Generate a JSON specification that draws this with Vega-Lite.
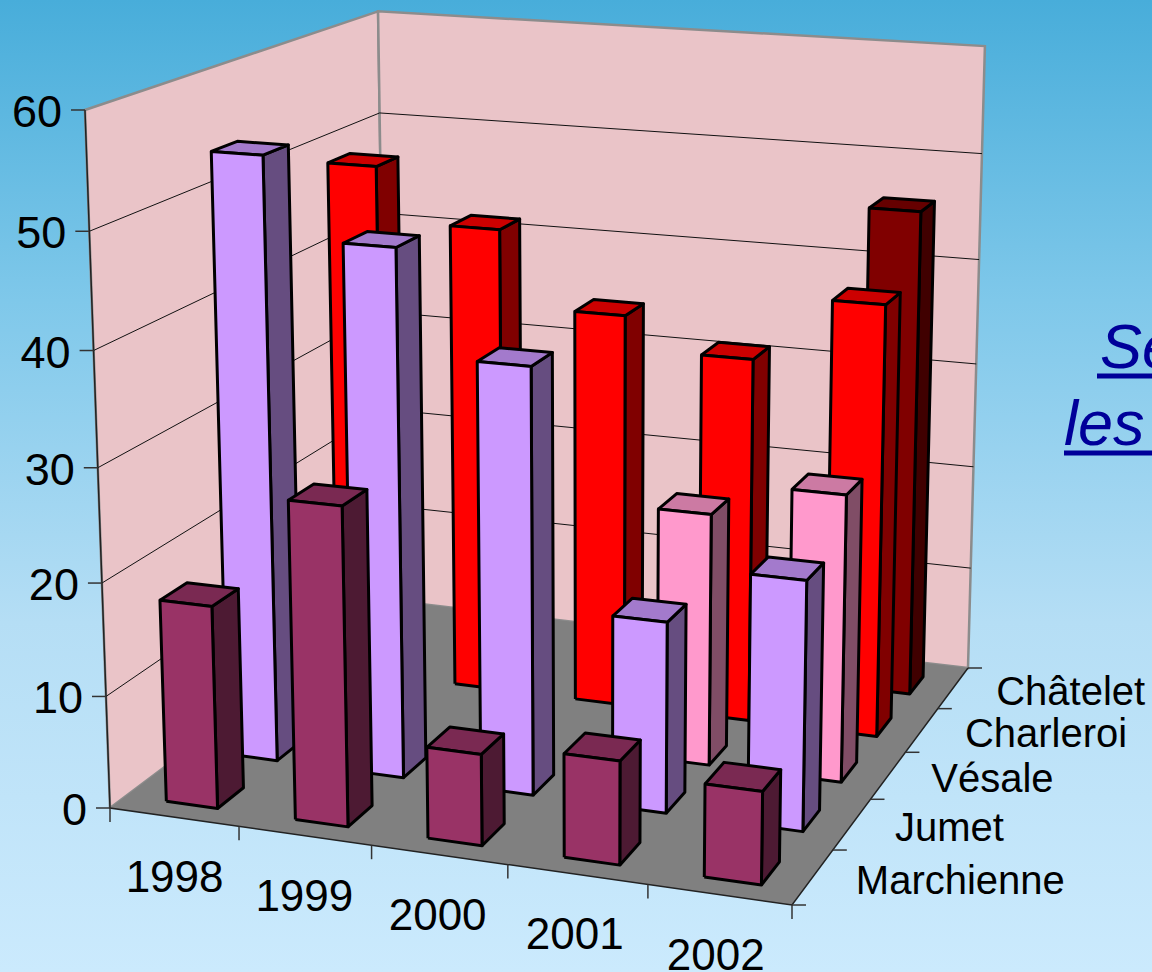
{
"$schema":"https://vega.github.io/schema/vega-lite/v6.json",
"width":1152,"height":972,"padding":0,"autosize":{"type":"none"},
"view":{"stroke":null,"fill":{"gradient":"linear","x1":0,"y1":0,"x2":0,"y2":1,"stops":[{"offset":0,"color":"#48ADDA"},{"offset":0.31,"color":"#7FC8EA"},{"offset":0.64,"color":"#B5DEF5"},{"offset":1,"color":"#CBEAFD"}]}},
"datasets":{
"bars":[
{"year":"2002","site":"Châtelet","value":46},
{"year":"1998","site":"Charleroi","value":49},
{"year":"1999","site":"Charleroi","value":44},
{"year":"2000","site":"Charleroi","value":37},
{"year":"2001","site":"Charleroi","value":34},
{"year":"2002","site":"Charleroi","value":40},
{"year":"2001","site":"Vésale","value":23},
{"year":"2002","site":"Vésale","value":26},
{"year":"1998","site":"Jumet","value":54.25},
{"year":"1999","site":"Jumet","value":47.2},
{"year":"2000","site":"Jumet","value":38},
{"year":"2001","site":"Jumet","value":17},
{"year":"2002","site":"Jumet","value":22},
{"year":"1998","site":"Marchienne","value":18},
{"year":"1999","site":"Marchienne","value":28},
{"year":"2000","site":"Marchienne","value":8},
{"year":"2001","site":"Marchienne","value":9},
{"year":"2002","site":"Marchienne","value":8}
],
"planes":[
{"plane":"left","n":0,"u":0,"v":0,"z":0},{"plane":"left","n":1,"u":0,"v":1,"z":0},{"plane":"left","n":2,"u":0,"v":1,"z":60},{"plane":"left","n":3,"u":0,"v":0,"z":60},{"plane":"left","n":4,"u":0,"v":0,"z":0},
{"plane":"back","n":0,"u":0,"v":1,"z":0},{"plane":"back","n":1,"u":1,"v":1,"z":0},{"plane":"back","n":2,"u":1,"v":1,"z":60},{"plane":"back","n":3,"u":0,"v":1,"z":60},{"plane":"back","n":4,"u":0,"v":1,"z":0}
],
"floor":[
{"plane":"floor","n":0,"u":0,"v":0,"z":0},{"plane":"floor","n":1,"u":1,"v":0,"z":0},{"plane":"floor","n":2,"u":1,"v":1,"z":0},{"plane":"floor","n":3,"u":0,"v":1,"z":0},{"plane":"floor","n":4,"u":0,"v":0,"z":0}
],
"edges":[
{"plane":"e1","n":0,"u":0,"v":0,"z":60},{"plane":"e1","n":1,"u":0,"v":0,"z":0},{"plane":"e1","n":2,"u":1,"v":0,"z":0},{"plane":"e1","n":3,"u":1,"v":1,"z":0}
],
"levels":[{"level":10},{"level":20},{"level":30},{"level":40},{"level":50}],
"ticks":[
{"axis":"value","u":0,"v":0,"z":0},{"axis":"value","u":0,"v":0,"z":10},{"axis":"value","u":0,"v":0,"z":20},{"axis":"value","u":0,"v":0,"z":30},{"axis":"value","u":0,"v":0,"z":40},{"axis":"value","u":0,"v":0,"z":50},{"axis":"value","u":0,"v":0,"z":60},
{"axis":"year","u":0,"v":0,"z":0},{"axis":"year","u":0.2,"v":0,"z":0},{"axis":"year","u":0.4,"v":0,"z":0},{"axis":"year","u":0.6,"v":0,"z":0},{"axis":"year","u":0.8,"v":0,"z":0},{"axis":"year","u":1,"v":0,"z":0},
{"axis":"depth","u":1,"v":0,"z":0},{"axis":"depth","u":1,"v":0.2,"z":0},{"axis":"depth","u":1,"v":0.4,"z":0},{"axis":"depth","u":1,"v":0.6,"z":0},{"axis":"depth","u":1,"v":0.8,"z":0},{"axis":"depth","u":1,"v":1,"z":0}
],
"labels":[
{"axis":"value","label":"0","u":0,"v":0,"z":0},{"axis":"value","label":"10","u":0,"v":0,"z":10},{"axis":"value","label":"20","u":0,"v":0,"z":20},{"axis":"value","label":"30","u":0,"v":0,"z":30},{"axis":"value","label":"40","u":0,"v":0,"z":40},{"axis":"value","label":"50","u":0,"v":0,"z":50},{"axis":"value","label":"60","u":0,"v":0,"z":60},
{"axis":"year","label":"1998","u":0.1,"v":0,"z":0},{"axis":"year","label":"1999","u":0.3,"v":0,"z":0},{"axis":"year","label":"2000","u":0.5,"v":0,"z":0},{"axis":"year","label":"2001","u":0.7,"v":0,"z":0},{"axis":"year","label":"2002","u":0.9,"v":0,"z":0},
{"axis":"depth","label":"Marchienne","u":1,"v":0.1,"z":0},{"axis":"depth","label":"Jumet","u":1,"v":0.3,"z":0},{"axis":"depth","label":"Vésale","u":1,"v":0.5,"z":0},{"axis":"depth","label":"Charleroi","u":1,"v":0.7,"z":0},{"axis":"depth","label":"Châtelet","u":1,"v":0.9,"z":0}
]
},
"encoding":{
"x":{"field":"sx","type":"quantitative","axis":null,"scale":{"domain":[0,1152],"range":[0,1152],"nice":false,"zero":false}},
"y":{"field":"sy","type":"quantitative","axis":null,"scale":{"domain":[0,972],"range":[0,972],"nice":false,"zero":false}}
},
"layer":[
{"data":{"name":"planes"},
"transform":[
{"calculate":"datum.z/60","as":"Z"},
{"calculate":"1-0.06669*datum.u+0.19404*datum.v-0.049*datum.Z","as":"w"},
{"calculate":"(629.18*datum.u+352.09*datum.v-29.2*datum.Z+110)/datum.w","as":"sx"},
{"calculate":"(36.65*datum.u-91.58*datum.v-703.4*datum.Z+808)/datum.w","as":"sy"}],
"mark":{"type":"line","stroke":"#8C8C8C","strokeWidth":2.5,"fill":"#EAC4C8","strokeJoin":"miter"},
"encoding":{"detail":{"field":"plane"},"order":{"field":"n"}}},
{"data":{"name":"floor"},
"transform":[
{"calculate":"datum.z/60","as":"Z"},
{"calculate":"1-0.06669*datum.u+0.19404*datum.v-0.049*datum.Z","as":"w"},
{"calculate":"(629.18*datum.u+352.09*datum.v-29.2*datum.Z+110)/datum.w","as":"sx"},
{"calculate":"(36.65*datum.u-91.58*datum.v-703.4*datum.Z+808)/datum.w","as":"sy"}],
"mark":{"type":"line","fill":"#808080","strokeWidth":0},
"encoding":{"detail":{"field":"plane"},"order":{"field":"n"}}},
{"data":{"name":"levels"},
"transform":[
{"calculate":"[{n:0,u:0,v:0},{n:1,u:0,v:1},{n:2,u:1,v:1}]","as":"pts"},
{"flatten":["pts"]},
{"calculate":"datum.level/60","as":"Z"},
{"calculate":"1-0.06669*datum.pts.u+0.19404*datum.pts.v-0.049*datum.Z","as":"w"},
{"calculate":"(629.18*datum.pts.u+352.09*datum.pts.v-29.2*datum.Z+110)/datum.w","as":"sx"},
{"calculate":"(36.65*datum.pts.u-91.58*datum.pts.v-703.4*datum.Z+808)/datum.w","as":"sy"},
{"calculate":"datum.pts.n","as":"n"}],
"mark":{"type":"line","stroke":"#111111","strokeWidth":1},
"encoding":{"detail":{"field":"level"},"order":{"field":"n"}}},
{"data":{"name":"edges"},
"transform":[
{"calculate":"datum.z/60","as":"Z"},
{"calculate":"1-0.06669*datum.u+0.19404*datum.v-0.049*datum.Z","as":"w"},
{"calculate":"(629.18*datum.u+352.09*datum.v-29.2*datum.Z+110)/datum.w","as":"sx"},
{"calculate":"(36.65*datum.u-91.58*datum.v-703.4*datum.Z+808)/datum.w","as":"sy"}],
"mark":{"type":"line","stroke":"#222222","strokeWidth":1.5},
"encoding":{"detail":{"field":"plane"},"order":{"field":"n"}}},
{"data":{"name":"ticks"},
"transform":[
{"calculate":"datum.z/60","as":"Z"},
{"calculate":"1-0.06669*datum.u+0.19404*datum.v-0.049*datum.Z","as":"w"},
{"calculate":"(629.18*datum.u+352.09*datum.v-29.2*datum.Z+110)/datum.w","as":"sx"},
{"calculate":"(36.65*datum.u-91.58*datum.v-703.4*datum.Z+808)/datum.w","as":"sy"},
{"calculate":"datum.sx+(datum.axis=='value'?-14:(datum.axis=='depth'?14:0))","as":"sx2"},
{"calculate":"datum.sy+(datum.axis=='year'?14:0)","as":"sy2"}],
"mark":{"type":"rule","stroke":"#333333","strokeWidth":1.5},
"encoding":{"x2":{"field":"sx2"},"y2":{"field":"sy2"}}},
{"data":{"name":"bars"},
"transform":[
{"calculate":"indexof(['1998','1999','2000','2001','2002'],datum.year)","as":"i"},
{"calculate":"indexof(['Marchienne','Jumet','Vésale','Charleroi','Châtelet'],datum.site)","as":"j"},
{"calculate":"[{f:'side',n:0,a:1,b:0,t:0},{f:'side',n:1,a:1,b:1,t:0},{f:'side',n:2,a:1,b:1,t:1},{f:'side',n:3,a:1,b:0,t:1},{f:'side',n:4,a:1,b:0,t:0},{f:'top',n:0,a:0,b:0,t:1},{f:'top',n:1,a:1,b:0,t:1},{f:'top',n:2,a:1,b:1,t:1},{f:'top',n:3,a:0,b:1,t:1},{f:'top',n:4,a:0,b:0,t:1},{f:'front',n:0,a:0,b:0,t:0},{f:'front',n:1,a:1,b:0,t:0},{f:'front',n:2,a:1,b:0,t:1},{f:'front',n:3,a:0,b:0,t:1},{f:'front',n:4,a:0,b:0,t:0}]","as":"pts"},
{"flatten":["pts"]},
{"calculate":"datum.i*0.2+0.063+datum.pts.a*0.08","as":"u"},
{"calculate":"datum.j*0.2+0.05+datum.pts.b*0.085","as":"v"},
{"calculate":"datum.pts.t*datum.value/60","as":"Z"},
{"calculate":"1-0.06669*datum.u+0.19404*datum.v-0.049*datum.Z","as":"w"},
{"calculate":"(629.18*datum.u+352.09*datum.v-29.2*datum.Z+110)/datum.w","as":"sx"},
{"calculate":"(36.65*datum.u-91.58*datum.v-703.4*datum.Z+808)/datum.w","as":"sy"},
{"calculate":"datum.pts.n","as":"n"},
{"calculate":"datum.site+' '+datum.pts.f","as":"face"},
{"calculate":"datum.year+' '+datum.face","as":"key"}],
"mark":{"type":"line","stroke":"#000000","strokeWidth":3,"strokeJoin":"round"},
"encoding":{
"detail":{"field":"key"},
"order":{"field":"n"},
"fill":{"field":"face","type":"nominal","legend":null,"scale":{
"domain":["Marchienne front","Marchienne top","Marchienne side","Jumet front","Jumet top","Jumet side","Vésale front","Vésale top","Vésale side","Charleroi front","Charleroi top","Charleroi side","Châtelet front","Châtelet top","Châtelet side"],
"range":["#993366","#7A2952","#4D1A33","#CC99FF","#A37ACC","#664D80","#FF99CC","#CC7AA3","#804D66","#FF0000","#CC0000","#800000","#800000","#660000","#400000"]}}}},
{"data":{"name":"labels"},
"transform":[
{"filter":"datum.axis=='value'"},
{"calculate":"datum.z/60","as":"Z"},
{"calculate":"1-0.06669*datum.u+0.19404*datum.v-0.049*datum.Z","as":"w"},
{"calculate":"(629.18*datum.u+352.09*datum.v-29.2*datum.Z+110)/datum.w","as":"sx"},
{"calculate":"(36.65*datum.u-91.58*datum.v-703.4*datum.Z+808)/datum.w","as":"sy"}],
"mark":{"type":"text","font":"Liberation Sans","fontSize":45,"align":"right","baseline":"middle","dx":-23,"dy":3,"color":"#000000"},
"encoding":{"text":{"field":"label"}}},
{"data":{"name":"labels"},
"transform":[
{"filter":"datum.axis=='year'"},
{"calculate":"datum.z/60","as":"Z"},
{"calculate":"1-0.06669*datum.u+0.19404*datum.v-0.049*datum.Z","as":"w"},
{"calculate":"(629.18*datum.u-5*datum.u+352.09*datum.v-29.2*datum.Z+110)/datum.w","as":"sx"},
{"calculate":"(36.65*datum.u-91.58*datum.v-703.4*datum.Z+808)/datum.w","as":"sy"}],
"mark":{"type":"text","font":"Liberation Sans","fontSize":44,"align":"center","baseline":"middle","dx":1,"dy":62,"color":"#000000"},
"encoding":{"text":{"field":"label"}}},
{"data":{"name":"labels"},
"transform":[
{"filter":"datum.axis=='depth'"},
{"calculate":"datum.z/60","as":"Z"},
{"calculate":"1-0.06669*datum.u+0.19404*datum.v-0.049*datum.Z","as":"w"},
{"calculate":"(629.18*datum.u+352.09*datum.v-29.2*datum.Z+110)/datum.w","as":"sx"},
{"calculate":"(36.65*datum.u-91.58*datum.v-703.4*datum.Z+808)/datum.w","as":"sy"}],
"mark":{"type":"text","font":"Liberation Sans","fontSize":40,"align":"left","baseline":"middle","dx":43,"dy":5,"color":"#000000"},
"encoding":{"text":{"field":"label"}}},
{"data":{"values":[{"label":"Se"},{"label":"les"}]},
"transform":[
{"calculate":"datum.label=='Se'?1100:1064","as":"sx"},
{"calculate":"datum.label=='Se'?368:445","as":"sy"}],
"mark":{"type":"text","font":"Liberation Sans","fontSize":63,"fontStyle":"italic","align":"left","baseline":"alphabetic","color":"#000099"},
"encoding":{"text":{"field":"label"}}},
{"data":{"values":[{"label":"Se"},{"label":"les"}]},
"transform":[
{"calculate":"datum.label=='Se'?1097:1064","as":"sx"},
{"calculate":"1152","as":"sx2"},
{"calculate":"datum.label=='Se'?376:453","as":"sy"}],
"mark":{"type":"rule","stroke":"#000099","strokeWidth":5},
"encoding":{"x2":{"field":"sx2"}}}
]
}
